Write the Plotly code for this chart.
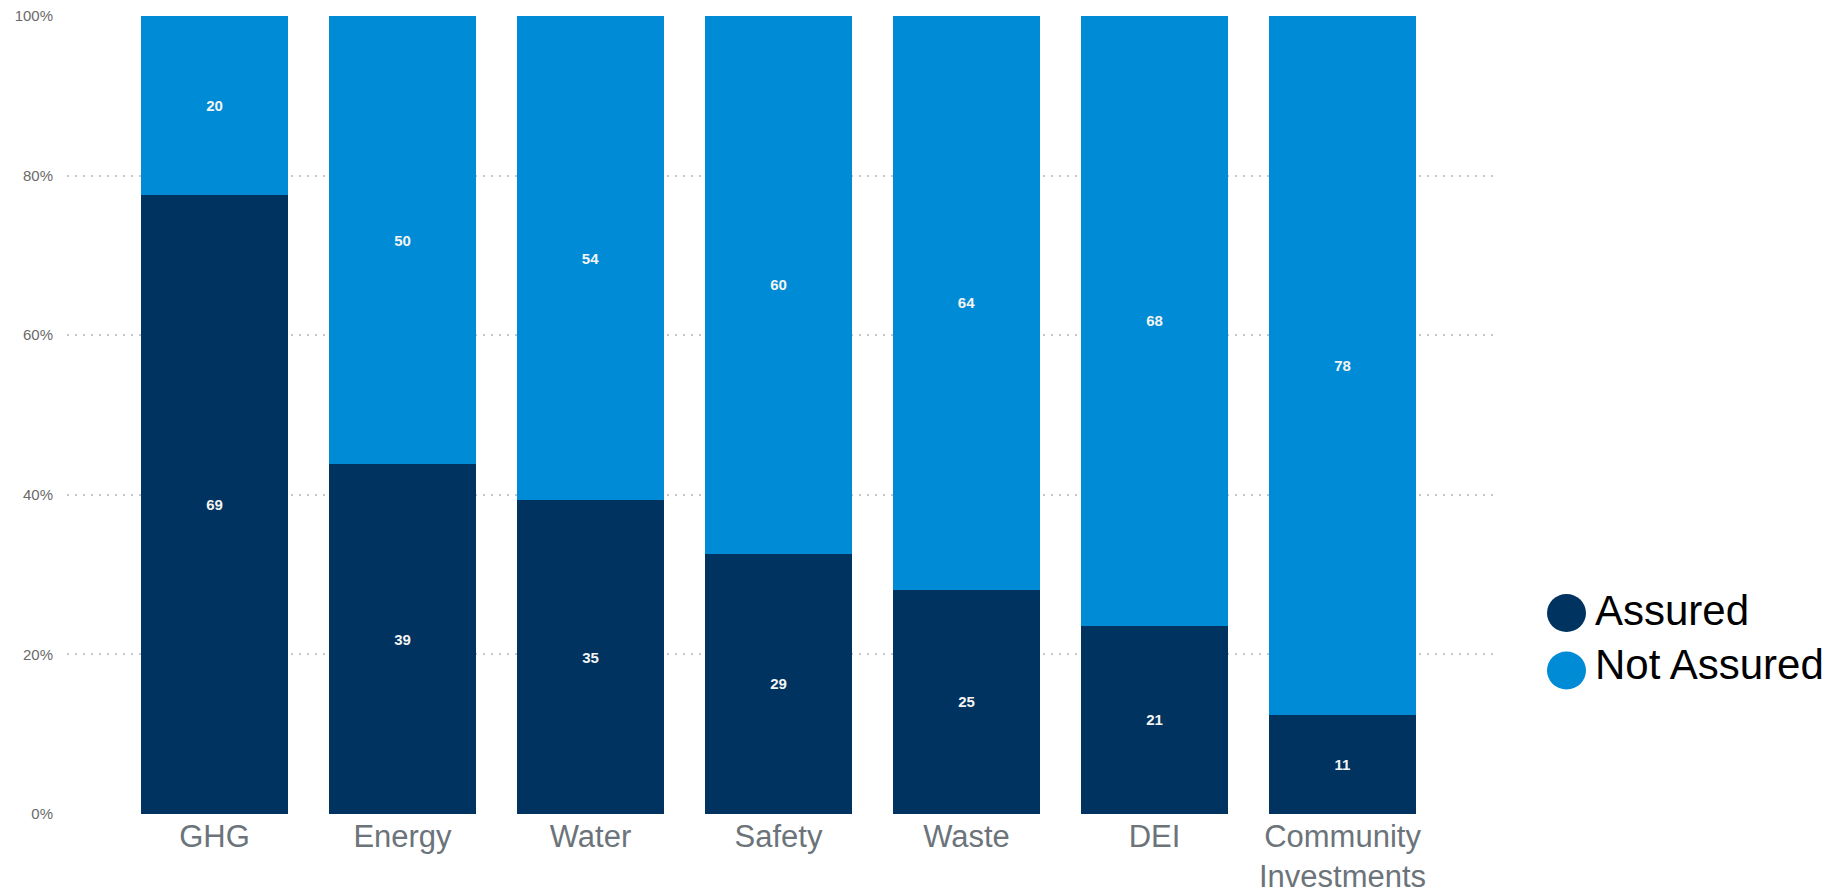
import plotly.graph_objects as go

categories = ["GHG", "Energy", "Water", "Safety", "Waste", "DEI", "Community<br>Investments"]
assured = [69, 39, 35, 29, 25, 21, 11]
not_assured = [20, 50, 54, 60, 64, 68, 78]
series_names = ["Assured", "Not Assured"]
series_colors = ["#00335F", "#008BD6"]
y_ticks = [0, 20, 40, 60, 80, 100]
y_tick_labels = ["0%", "20%", "40%", "60%", "80%", "100%"]

W, H = 1834, 895
L, R, T, B = 67, 1497, 16, 814  # plot area in pixels


def px_x(p):
    return (p - L) / (R - L)


def px_y(p):
    return (B - p) / (B - T)


FONT = "Arial, 'Liberation Sans', sans-serif"

fig = go.Figure()
for name, vals, col in zip(series_names, [assured, not_assured], series_colors):
    fig.add_trace(go.Bar(
        x=categories, y=vals, name=name, marker=dict(color=col, line=dict(width=0)),
        text=[str(v) for v in vals], textposition="inside", insidetextanchor="middle",
        textangle=0, constraintext="none",
        textfont=dict(family=FONT, size=15, color="#F4F4F4", weight="bold"),
        showlegend=False, hoverinfo="x+y+name",
    ))

fig.update_layout(
    barmode="stack", barnorm="percent", bargap=0.218,
    width=W, height=H, autosize=False,
    margin=dict(l=L, r=W - R, t=T, b=H - B, pad=0, autoexpand=False),
    paper_bgcolor="white", plot_bgcolor="white",
    font=dict(family=FONT),
    xaxis=dict(range=[-0.7846, 6.8218], showgrid=False, showline=False, zeroline=False,
               ticks="", tickfont=dict(family=FONT, size=31, color="#6B747A"),
               ticklabelstandoff=1, automargin=False),
    yaxis=dict(range=[0, 100], tickvals=y_ticks, ticktext=y_tick_labels,
               showgrid=True, gridcolor="#C8C8C8", gridwidth=2, griddash="2px,6px",
               zeroline=False, showline=False, ticks="",
               tickfont=dict(family=FONT, size=15, color="#6A6A6A"),
               ticklabelstandoff=13, automargin=False),
)

# custom legend with large circular swatches
legend_rows = [(613, 610), (670.5, 664)]
for (cy, ty), name, col in zip(legend_rows, series_names, series_colors):
    fig.add_shape(type="circle", xref="paper", yref="paper",
                  xsizemode="pixel", ysizemode="pixel",
                  xanchor=px_x(1566.5), yanchor=px_y(cy),
                  x0=-19.5, x1=19.5, y0=-19, y1=19,
                  fillcolor=col, line=dict(width=0))
    fig.add_annotation(x=px_x(1593), y=px_y(ty), xref="paper", yref="paper",
                       text=name, showarrow=False, xanchor="left", yanchor="middle",
                       font=dict(family=FONT, size=42, color="#000000"))

fig.write_html("out.html")
